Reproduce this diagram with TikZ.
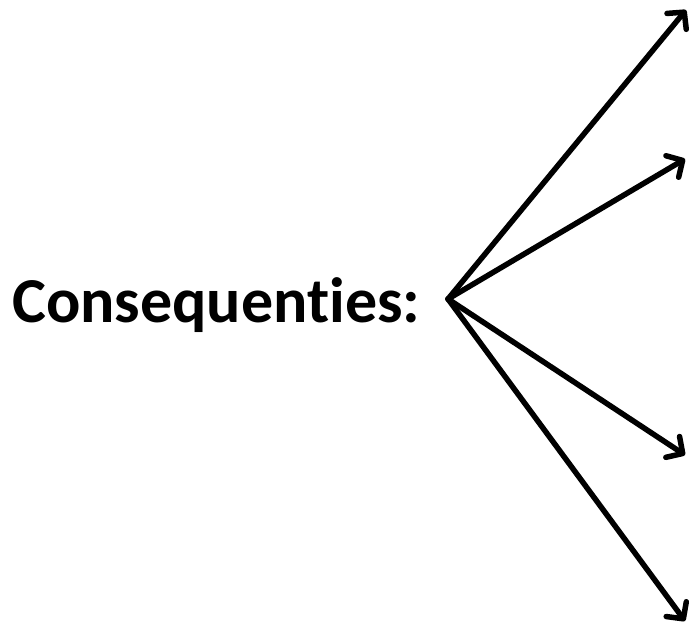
\documentclass[tikz,border=0pt]{standalone}
\usepackage{fontspec}
\setmainfont{Carlito}[Ligatures=NoCommon]
\usetikzlibrary{arrows.meta}
\begin{document}
\begin{tikzpicture}[x=1pt,y=-1pt,
  conn/.style={line width=5.5pt,line cap=round,-{Straight Barb[length=12pt,width=25pt,line cap=round,line join=round]}}]
\useasboundingbox (0,0) rectangle (689,630);
\node[font=\bfseries\fontsize{64}{72}\selectfont,anchor=base west,inner sep=0pt] (t) at (12,322) {Consequenties:};
\coordinate (o) at (448,299);
\coordinate (a) at (686,10);
\coordinate (b) at (685,159);
\coordinate (c) at (685,455);
\coordinate (d) at (685,621);
\draw[conn] (o) -- (a);
\draw[conn] (o) -- (b);
\draw[conn] (o) -- (c);
\draw[conn] (o) -- (d);
\end{tikzpicture}
\end{document}
